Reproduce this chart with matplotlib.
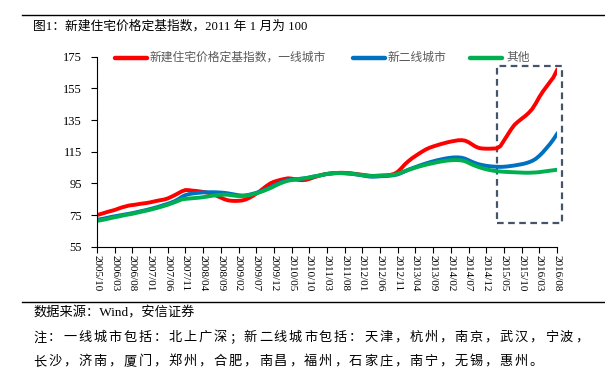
import numpy as np
import matplotlib.pyplot as plt
from matplotlib.patches import Rectangle

plt.rcParams['font.family'] = ['Liberation Serif', 'Noto Sans CJK SC']

# monthly index, 2005/10 .. 2016/08 (2011/01 = 100)
tier1 = [75, 75.6, 76.3, 77, 77.6, 78.2, 79, 79.8, 80.4, 81, 81.3, 81.6, 82,
         82.3, 82.6, 83, 83.5, 84, 84.4, 84.8, 85.5, 86.5, 87.6, 88.8, 90,
         90.8, 90.7, 90.4, 90.2, 89.9, 89.6, 89.2, 88.7, 88, 87, 86, 85,
         84.3, 84, 83.9, 84, 84.2, 84.8, 85.8, 87, 88.5, 90, 91.8, 93.5,
         95, 96, 96.7, 97.3, 97.8, 98.2, 98, 97.5, 97.2, 97, 97.2, 97.8,
         98.6, 99.3, 100, 100.6, 101, 101.3, 101.5, 101.6, 101.7, 101.6, 101.5, 101.3,
         101, 100.7, 100.4, 100.1, 99.8, 99.7, 99.8, 99.9, 100, 100.1, 100.4, 101,
         102.3, 104.5, 107, 109, 110.8, 112.3, 113.8, 115.2, 116.5, 117.5, 118.3, 119,
         119.7, 120.3, 120.9, 121.4, 121.8, 122.2, 122.3, 122, 121, 119.6, 118.2, 117.3,
         117, 116.9, 116.9, 117, 117.1, 118.5, 122, 125.5, 129, 132, 134, 135.8,
         137.5, 139.5, 142, 145.5, 149.5, 153, 156, 159, 162, 166.5]
tier2 = [72, 72.4, 72.8, 73.3, 73.8, 74.2, 74.6, 75, 75.4, 75.8, 76.2, 76.7, 77.2,
         77.7, 78.2, 78.8, 79.4, 80, 80.7, 81.4, 82.1, 82.9, 83.8, 85, 86.5,
         87.6, 88.2, 88.6, 88.9, 89.1, 89.3, 89.4, 89.4, 89.4, 89.3, 89.2, 89,
         88.7, 88.3, 87.9, 87.5, 87.3, 87.4, 87.8, 88.4, 89, 89.7, 90.5, 91.5,
         92.5, 93.6, 94.7, 95.7, 96.5, 97.1, 97.4, 97.6, 97.8, 98, 98.3, 98.7,
         99.2, 99.6, 100, 100.5, 100.9, 101.2, 101.4, 101.5, 101.5, 101.4, 101.2, 101,
         100.7, 100.4, 100, 99.6, 99.3, 99.2, 99.3, 99.5, 99.6, 99.7, 99.9, 100.2,
         100.7, 101.6, 102.6, 103.6, 104.5, 105.3, 106.1, 106.9, 107.6, 108.3, 108.9, 109.5,
         110, 110.5, 110.9, 111.2, 111.4, 111.4, 111.2, 110.6, 109.6, 108.6, 107.7, 107,
         106.5, 106.1, 105.8, 105.6, 105.5, 105.4, 105.5, 105.7, 106, 106.3, 106.7, 107.1,
         107.6, 108.3, 109.2, 110.5, 112.4, 114.6, 117.2, 119.8, 122.8, 126.2]
others = [71.3, 71.7, 72.1, 72.6, 73.1, 73.6, 74, 74.5, 75, 75.4, 75.8, 76.3, 76.8,
          77.3, 77.8, 78.3, 78.9, 79.5, 80.1, 80.8, 81.5, 82.3, 83.1, 84, 84.9,
          85.2, 85.4, 85.6, 85.8, 86, 86.3, 86.6, 87, 87.3, 87.6, 87.8, 87.9,
          87.8, 87.5, 87.2, 87, 87, 87.2, 87.6, 88.1, 88.7, 89.4, 90.2, 91.1,
          92, 93.1, 94.2, 95.2, 96, 96.7, 97.1, 97.4, 97.7, 98, 98.3, 98.7,
          99.2, 99.6, 100, 100.5, 100.9, 101.2, 101.4, 101.5, 101.5, 101.4, 101.3, 101.1,
          100.8, 100.5, 100.2, 99.9, 99.7, 99.6, 99.7, 99.8, 99.9, 100, 100.2, 100.5,
          101, 101.8, 102.7, 103.5, 104.2, 104.9, 105.6, 106.2, 106.8, 107.3, 107.8, 108.3,
          108.7, 109.1, 109.4, 109.6, 109.7, 109.7, 109.5, 109, 108, 106.9, 106, 105.2,
          104.5, 103.9, 103.4, 103, 102.7, 102.5, 102.3, 102.2, 102.1, 102, 101.9, 101.8,
          101.7, 101.7, 101.8, 101.9, 102.1, 102.4, 102.7, 103, 103.3, 103.6]

tick_labels = ['2005/10', '2006/03', '2006/08', '2007/01', '2007/06', '2007/11',
               '2008/04', '2008/09', '2009/02', '2009/07', '2009/12', '2010/05',
               '2010/10', '2011/03', '2011/08', '2012/01', '2012/06', '2012/11',
               '2013/04', '2013/09', '2014/02', '2014/07', '2014/12', '2015/05',
               '2015/10', '2016/03', '2016/08']

series_names = ['新建住宅价格定基指数，一线城市', '新二线城市', '其他']
series_colors = ['#FF0000', '#0070C0', '#00B050']

note1 = '注：一线城市包括：北上广深；新二线城市包括：天津，杭州，南京，武汉，宁波，'
note2 = '长沙，济南，厦门，郑州，合肥，南昌，福州，石家庄，南宁，无锡，惠州。'

months = np.arange(len(tier1))

fig = plt.figure(figsize=(6.05, 3.77), dpi=100)
ax = fig.add_axes([97 / 605, 1 - 246.7 / 377, 460 / 605, 190 / 377])

for vals, name, col in zip([tier1, tier2, others], series_names, series_colors):
    ax.plot(months, vals, color=col, lw=2.8, label=name)

# highlight box on the recent period
box = Rectangle((113, 70), 18.5, 99.3, fill=False, ec='#44546A', lw=1.6,
                ls=(0, (3, 2)), clip_on=False)
ax.add_patch(box)

ax.set_xlim(0, 130)
ax.set_ylim(55, 175)
ax.set_yticks(np.arange(55, 176, 20))
ax.set_xticks(np.arange(0, 131, 5))
ax.set_xticklabels(tick_labels, rotation=-90, fontsize=8)
ax.tick_params(axis='y', labelsize=9, length=4, direction='out', pad=7)
ax.tick_params(axis='x', length=4, direction='out', pad=2)
for s in ['top', 'right']:
    ax.spines[s].set_visible(False)

# legend drawn by hand: handle start, handle end, text start (px)
leg_pos = [(115, 147, 150), (353, 385, 388), (470, 502, 506)]
leg_y = 1 - 57.5 / 377
for (x0, x1, xt), name, col in zip(leg_pos, series_names, series_colors):
    fig.add_artist(plt.Line2D([x0 / 605, x1 / 605], [leg_y, leg_y], color=col,
                              lw=3.2, solid_capstyle='round'))
    fig.text(xt / 605, leg_y, name, fontsize=8.5, color='#595959', va='center',
             family=['Noto Sans CJK SC'])

# header / footer
fig.add_artist(plt.Line2D([22 / 605, 1], [1 - 14.7 / 377] * 2, color='black', lw=1))
fig.add_artist(plt.Line2D([22 / 605, 1], [1 - 301.5 / 377] * 2, color='black', lw=1))
fig.text(33 / 605, 1 - 26.7 / 377, '图1：新建住宅价格定基指数，2011 年 1 月为 100',
         fontsize=9.2, va='center', ha='left')
fig.text(33 / 605, 1 - 313 / 377, '数据来源：Wind，安信证券', fontsize=9.5, va='center')

# note lines are evenly spaced, one character every 15 px
for line, ypx in [(note1, 338), (note2, 362)]:
    for i, ch in enumerate(line):
        fig.text((33 + i * 15.05) / 605, 1 - ypx / 377, ch, fontsize=9.5, va='center')

fig.savefig('out.png', dpi=100)
